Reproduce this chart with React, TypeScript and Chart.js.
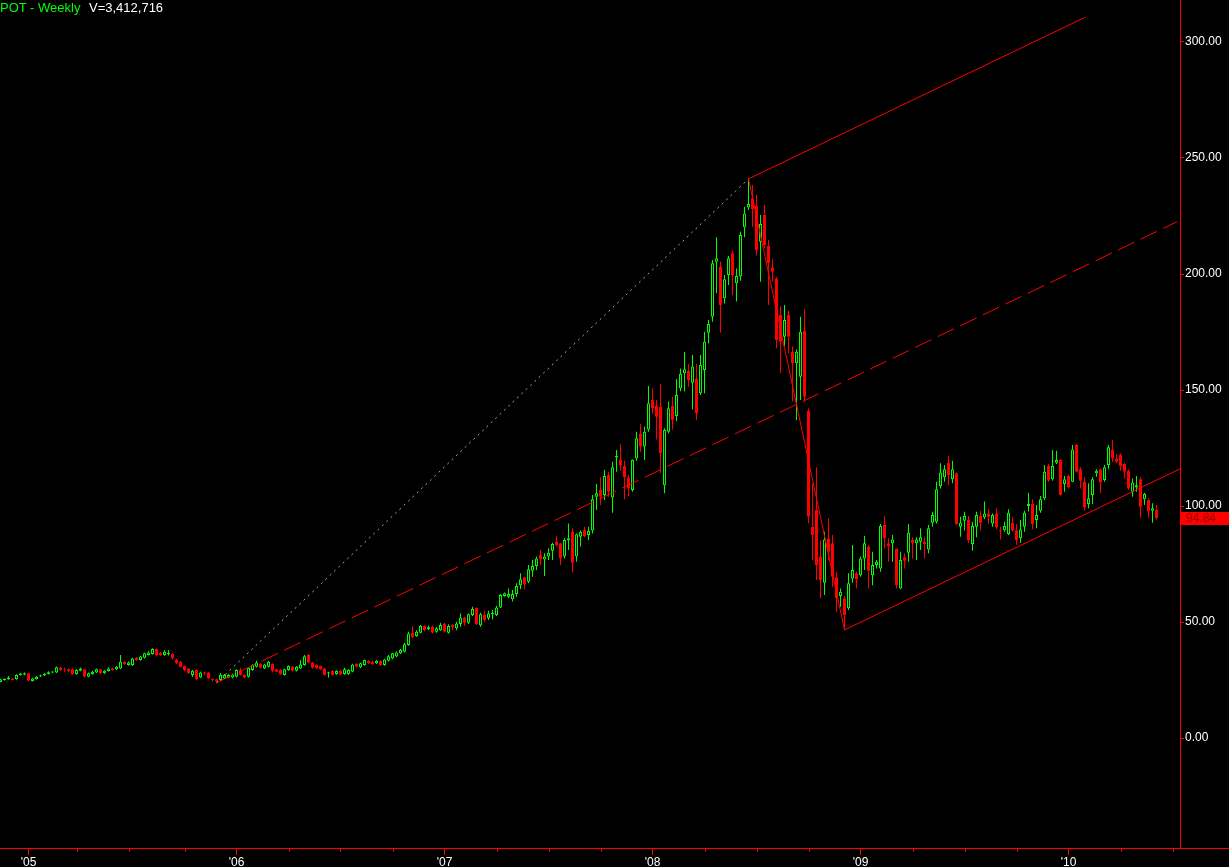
import React, { useEffect, useRef } from 'react';
import { Chart, registerables } from 'chart.js';

Chart.register(...registerables);

// Week index is counted from the first week of 2005 (week 0 = '05 tick)
const FIRST_WEEK = -7;

const opens = [
  24.2, 24.9, 25.3, 25.7, 25.3, 27.2, 27.3,
  27.9, 24.6, 25.4, 26.6, 27.0, 27.6, 28.2, 28.2, 30.4, 29.7, 29.6, 29.6, 27.6, 29.0, 29.6, 26.4, 27.6, 28.2, 29.6, 27.9,
  28.9, 30.0, 29.6, 30.0, 32.9, 31.5, 31.5, 34.6, 33.6, 34.6, 35.8, 36.2, 38.4, 36.8, 35.8, 36.2, 36.2, 33.9, 32.9, 31.0,
  30.0, 27.2, 29.3, 26.1, 28.3, 28.2, 25.4, 25.3, 25.0, 25.7, 26.1, 26.1,
  26.4, 29.3, 27.2, 26.4, 29.3, 30.7, 31.9, 30.0, 30.7, 31.9, 29.6, 29.3, 27.2, 29.3, 30.7, 29.0, 30.0, 31.5, 35.8, 32.5,
  31.5, 31.0, 30.0, 27.9, 28.9, 27.6, 28.9, 27.6, 27.6, 28.6, 31.9, 30.5, 31.5, 33.2, 32.9, 32.2, 33.2, 31.5, 33.3, 34.3,
  35.1, 36.5, 37.2, 40.1, 45.4, 44.0, 45.4, 48.3, 46.9, 48.0, 45.8, 46.5,
  49.4, 45.4, 48.7, 47.3, 49.1, 52.0, 49.7, 53.0, 56.0, 48.6, 53.0, 51.6, 53.4, 53.0, 56.3, 61.2, 60.9, 59.8, 62.1, 65.9,
  69.3, 67.4, 72.1, 74.1, 78.9, 77.0, 78.2, 80.7, 84.6, 83.9, 78.2, 85.1, 88.9, 78.2, 86.8, 89.9, 87.5, 89.4, 104.0, 106.9,
  104.7, 113.4, 103.7, 120.9, 119.8, 117.2, 112.4, 106.9, 120.5, 131.3, 125.6, 133.0,
  145.7, 143.1, 142.8, 109.0, 132.0, 143.1, 138.8, 150.7, 157.2, 158.3, 153.1, 155.0, 148.6, 158.6, 174.7, 181.6, 205.3, 203.2,
  189.5, 199.6, 208.9, 196.0, 198.9, 220.1, 228.7, 232.6, 229.3, 213.9, 225.4, 212.1, 202.9, 198.1, 182.3, 173.0, 182.3,
  166.5, 161.5, 155.7, 175.5, 141.1, 91.1, 98.3, 78.2, 66.9, 86.1, 83.9, 69.3, 61.2, 60.2, 55.9, 68.8, 71.0, 70.2, 77.4,
  82.5, 70.2, 74.6, 73.1, 91.8, 83.9, 83.9, 81.7, 64.5, 77.9, 79.9, 85.6, 83.9, 84.6, 84.6, 81.3, 92.8, 93.2, 108.6, 112.4,
  118.7, 111.5, 114.1, 91.1, 93.7, 94.0, 83.6, 91.1, 95.7, 95.1, 96.8, 92.5, 96.8, 89.6, 89.6, 87.9, 92.8, 89.6, 86.1, 91.1,
  100.0, 100.9, 94.0, 98.0, 103.3, 117.2, 111.5, 118.7,
  119.8, 109.5, 112.9, 110.5, 126.3, 115.8, 110.5, 100.9, 104.7, 114.1, 115.8, 111.2, 117.7, 124.4, 120.5, 122.0, 118.1,
  115.2, 106.2, 108.0, 111.5, 102.9, 102.6, 98.0, 98.3,
];

const highs = [
  25.5, 25.7, 26.7, 25.9, 27.5, 28.0, 28.2,
  28.1, 26.0, 26.7, 27.3, 28.0, 28.8, 28.8, 30.8, 30.7, 30.3, 30.0, 30.0, 29.6, 30.4, 29.8, 28.2, 29.0, 30.0, 29.8, 29.3,
  30.4, 30.4, 31.0, 35.8, 33.2, 33.0, 34.6, 34.9, 35.4, 36.8, 37.4, 38.7, 38.6, 37.2, 37.8, 37.8, 36.5, 34.2, 33.2, 31.3,
  30.3, 29.3, 29.6, 28.6, 28.6, 28.5, 25.6, 25.5, 28.0, 27.6, 27.5, 27.7,
  29.6, 30.3, 27.5, 30.6, 31.8, 33.3, 32.2, 32.0, 33.2, 32.2, 29.9, 29.6, 29.9, 31.3, 31.0, 31.0, 33.6, 35.8, 36.3, 32.8,
  31.8, 31.3, 30.3, 28.6, 29.2, 29.2, 29.2, 30.3, 29.6, 32.0, 32.2, 32.5, 33.9, 33.5, 33.3, 33.6, 33.5, 34.2, 35.8, 36.8,
  37.4, 38.4, 41.2, 45.8, 48.3, 46.5, 48.7, 48.6, 48.5, 48.3, 47.8, 49.7,
  49.7, 49.0, 49.1, 50.1, 53.7, 52.3, 53.7, 56.6, 56.3, 54.0, 54.9, 54.9, 55.2, 57.0, 62.1, 62.7, 64.5, 63.8, 66.7, 71.0,
  69.5, 74.6, 76.7, 78.2, 81.0, 79.6, 81.8, 84.2, 87.1, 84.2, 86.1, 92.5, 90.4, 88.2, 89.4, 91.1, 91.1, 104.7, 109.5, 112.4,
  115.5, 114.8, 119.1, 124.1, 126.7, 119.5, 113.4, 120.1, 132.0, 135.3, 134.2, 151.7,
  150.7, 145.7, 152.6, 133.5, 145.0, 147.1, 154.6, 159.3, 166.4, 161.2, 165.1, 161.2, 165.1, 175.1, 180.2, 206.0, 215.8, 205.3,
  199.6, 207.8, 210.1, 202.4, 218.2, 229.0, 240.8, 238.4, 234.0, 225.4, 229.7, 214.7, 206.4, 198.8, 186.1, 186.6, 184.2,
  168.7, 167.5, 181.6, 184.8, 142.0, 109.8, 116.7, 85.0, 88.9, 94.7, 87.5, 71.7, 64.5, 61.2, 71.0, 83.2, 71.7, 78.2, 87.1,
  83.2, 80.3, 76.7, 92.2, 95.7, 86.1, 87.5, 81.7, 80.3, 79.6, 92.2, 86.5, 86.5, 90.4, 86.8, 91.8, 97.5, 110.5, 118.4, 117.7,
  121.5, 119.5, 114.4, 95.4, 97.5, 95.7, 93.2, 97.5, 98.0, 101.9, 98.6, 96.8, 99.0, 91.1, 93.2, 98.6, 95.4, 92.2, 94.0, 98.0,
  105.7, 102.9, 100.4, 104.3, 117.7, 118.1, 124.1, 123.8,
  120.1, 112.9, 113.4, 126.3, 126.7, 116.7, 112.4, 109.8, 112.4, 115.8, 116.2, 117.7, 126.3, 128.4, 122.4, 122.7, 118.7,
  115.8, 111.9, 112.9, 112.4, 105.7, 103.3, 101.2, 100.4,
];

const lows = [
  24.0, 24.8, 25.1, 24.8, 25.1, 27.0, 27.1,
  24.5, 24.4, 25.2, 26.3, 26.8, 27.4, 28.0, 28.0, 29.0, 28.6, 28.4, 27.4, 27.3, 28.8, 26.2, 26.2, 27.3, 28.0, 27.6, 27.6,
  28.7, 29.0, 29.3, 29.7, 31.5, 31.2, 31.2, 33.3, 33.3, 34.3, 35.6, 35.9, 35.1, 35.5, 35.5, 35.6, 34.0, 31.9, 30.4, 28.8,
  27.6, 26.3, 25.0, 25.9, 27.2, 25.3, 24.4, 23.8, 24.6, 25.4, 25.8, 25.8,
  26.1, 26.9, 25.8, 26.1, 29.0, 30.4, 30.0, 29.7, 30.4, 28.3, 28.3, 27.3, 26.9, 29.0, 28.7, 28.7, 29.7, 31.2, 32.2, 30.0,
  29.7, 29.3, 26.9, 26.1, 26.9, 27.3, 27.1, 27.3, 27.3, 28.3, 30.4, 30.2, 31.2, 31.9, 31.5, 31.9, 31.2, 31.2, 33.0, 34.0,
  34.8, 36.2, 36.9, 39.8, 43.0, 43.7, 45.1, 46.0, 46.5, 45.1, 45.4, 46.2,
  45.5, 45.1, 46.5, 46.6, 48.0, 48.3, 49.1, 52.6, 48.7, 48.0, 50.1, 50.9, 51.1, 52.6, 56.0, 60.9, 60.2, 58.8, 60.9, 64.1,
  64.1, 66.7, 69.5, 72.4, 74.6, 69.8, 76.7, 76.7, 82.5, 74.6, 77.4, 81.0, 71.3, 76.0, 82.5, 86.5, 85.3, 88.2, 98.3, 100.4,
  102.6, 104.0, 97.1, 114.8, 115.2, 102.9, 104.3, 106.2, 119.5, 123.4, 119.8, 132.0,
  139.9, 128.7, 114.1, 105.5, 131.3, 133.0, 136.6, 149.5, 149.5, 151.4, 141.6, 137.1, 147.8, 148.6, 170.1, 179.4, 191.7, 174.7,
  187.3, 195.3, 190.9, 188.1, 197.1, 215.8, 227.6, 220.4, 208.0, 196.7, 211.1, 186.6, 196.7, 168.0, 157.2, 168.7, 165.8,
  145.0, 137.1, 145.7, 145.0, 92.5, 76.7, 68.1, 60.2, 61.6, 76.7, 65.2, 54.4, 56.6, 46.6, 55.2, 66.9, 64.5, 69.5, 72.4,
  64.5, 65.9, 73.1, 71.7, 81.7, 76.0, 76.0, 64.5, 64.1, 73.1, 76.0, 77.4, 76.7, 81.0, 77.4, 79.6, 91.1, 92.5, 107.6, 110.5,
  109.0, 109.8, 91.8, 86.8, 89.4, 83.9, 80.7, 86.5, 89.4, 94.3, 92.2, 91.1, 90.0, 85.6, 88.9, 87.5, 88.9, 83.2, 84.2, 88.9,
  97.6, 90.0, 90.4, 97.1, 102.6, 110.5, 110.9, 118.1,
  104.5, 106.2, 107.6, 110.2, 114.4, 107.6, 98.0, 99.0, 100.9, 112.6, 105.5, 110.5, 115.8, 119.1, 118.4, 115.2, 111.9,
  106.9, 104.0, 106.2, 95.1, 100.4, 95.1, 92.8, 94.0,
];

const closes = [
  25.2, 25.5, 26.1, 25.0, 27.2, 27.8, 27.9,
  24.7, 25.7, 26.4, 27.1, 27.7, 28.4, 28.6, 30.5, 29.3, 29.5, 28.9, 27.6, 29.3, 30.0, 26.4, 27.9, 28.6, 29.6, 27.9, 29.0,
  30.0, 29.3, 30.7, 32.9, 31.9, 32.6, 34.3, 33.6, 35.1, 36.5, 36.9, 38.4, 35.8, 35.8, 37.2, 36.6, 34.3, 32.2, 30.7, 29.3,
  27.9, 29.0, 25.3, 28.2, 27.9, 25.7, 25.0, 24.6, 27.2, 27.2, 27.2, 27.4,
  29.3, 27.2, 26.1, 30.3, 31.5, 32.5, 30.3, 31.7, 32.9, 29.0, 28.6, 27.6, 29.6, 31.0, 29.0, 30.7, 31.7, 35.3, 32.5, 30.3,
  30.0, 29.6, 27.2, 28.3, 27.2, 28.9, 27.4, 29.6, 29.3, 31.7, 30.7, 32.2, 33.6, 32.2, 31.9, 33.3, 31.5, 33.9, 35.3, 36.5,
  36.9, 37.9, 40.4, 45.1, 43.4, 45.8, 48.3, 46.5, 47.8, 45.4, 47.3, 48.7,
  45.8, 48.3, 47.6, 49.4, 52.0, 49.7, 53.4, 55.6, 49.1, 53.4, 50.9, 53.7, 53.9, 56.3, 61.6, 62.4, 62.1, 62.1, 65.5, 68.4,
  66.4, 72.7, 74.1, 77.4, 77.0, 78.2, 79.9, 83.6, 83.2, 77.4, 85.3, 86.1, 75.6, 87.8, 88.9, 87.1, 89.2, 102.9, 105.5, 104.0,
  112.9, 106.2, 116.7, 121.6, 117.7, 112.4, 107.6, 119.8, 129.2, 125.6, 132.0, 144.3,
  142.1, 138.5, 122.7, 132.8, 142.1, 137.1, 147.8, 157.0, 158.9, 154.3, 160.1, 139.9, 160.8, 170.8, 178.4, 204.6, 206.8, 186.6,
  197.7, 206.8, 199.6, 199.1, 216.8, 226.1, 230.2, 227.9, 210.3, 221.6, 212.5, 204.6, 201.0, 171.6, 170.8, 180.2, 173.0,
  161.5, 166.5, 175.1, 147.1, 95.4, 87.5, 74.6, 68.1, 85.6, 80.3, 69.5, 60.2, 63.0, 53.0, 66.7, 72.4, 68.5, 77.4, 83.9,
  72.1, 74.6, 76.0, 91.4, 86.1, 82.5, 85.6, 65.9, 76.7, 76.4, 88.5, 83.9, 85.6, 86.5, 83.6, 90.4, 96.1, 107.2, 114.4, 115.8,
  113.4, 115.8, 92.2, 92.8, 95.7, 85.1, 91.4, 96.1, 92.8, 96.8, 95.4, 96.1, 90.8, 89.0, 91.4, 97.1, 89.4, 85.1, 89.9, 97.1,
  100.9, 92.2, 96.1, 102.9, 114.8, 110.9, 117.2, 119.8,
  104.7, 111.5, 108.0, 124.4, 114.8, 110.9, 99.4, 103.3, 111.5, 115.2, 110.1, 116.7, 125.3, 120.5, 119.1, 117.2, 114.8,
  107.6, 110.1, 109.0, 99.7, 105.2, 97.6, 99.0, 94.84,
];

const yearWeeks = [0, 52, 104, 156, 208, 260];
const yearLabels = ["'05", "'06", "'07", "'08", "'09", "'10"];
const quarterWeeks = [12, 25, 39, 65, 78, 91, 117, 130, 143, 169, 182, 195, 221, 234, 247, 273, 286];
const priceTicks = [0, 50, 100, 150, 200, 250, 300];

// Andrews pitchfork pivots (week, price)
const pivotA = [47, 23.8];
const pivotB = [180, 241.0];
const pivotC = [204, 46.6];
const TINE_WEEKS = 84.25;
const MEDIAN_END_WEEK = 287.2;

const titleSymbol = 'POT - Weekly';
const titleVolume = 'V=3,412,716';

const GREEN = '#00ff00';
const RED = '#ff0000';
const FONT = '"Liberation Sans", Arial, sans-serif';

export default function App() {
  const ref = useRef<HTMLCanvasElement | null>(null);

  useEffect(() => {
    document.body.style.margin = '0';
    document.body.style.background = '#000';
    const canvas = ref.current;
    if (!canvas) return;

    const weeks = opens.map((_, k) => FIRST_WEEK + k);
    const isUp = closes.map((c, k) => c >= opens[k]);
    const bodyData = weeks.map((w, k) => ({ x: w, y: [opens[k], closes[k]] }));
    const wickData = weeks.map((w, k) => ({ x: w, y: [lows[k], highs[k]] }));
    const candleColor = isUp.map((u) => (u ? GREEN : RED));
    const bodyFill = isUp.map((u) => (u ? '#000000' : RED));

    const midX = (pivotB[0] + pivotC[0]) / 2;
    const midY = (pivotB[1] + pivotC[1]) / 2;
    const slope = (midY - pivotA[1]) / (midX - pivotA[0]);
    const medianEnd = { x: MEDIAN_END_WEEK, y: pivotA[1] + slope * (MEDIAN_END_WEEK - pivotA[0]) };
    const upperEnd = { x: pivotB[0] + TINE_WEEKS, y: pivotB[1] + slope * TINE_WEEKS };
    const lowerEnd = { x: pivotC[0] + TINE_WEEKS, y: pivotC[1] + slope * TINE_WEEKS };
    const pt = (p: number[]) => ({ x: p[0], y: p[1] });

    const lineBase = { type: 'line', pointRadius: 0, borderWidth: 1, fill: false, tension: 0 };

    const overlay = {
      id: 'overlay',
      afterDraw(chart: any) {
        const { ctx, chartArea } = chart;
        const xs = chart.scales.x;
        const ys = chart.scales.y;
        ctx.save();
        ctx.strokeStyle = RED;
        ctx.lineWidth = 1;
        // extend the time axis line under the price labels
        ctx.beginPath();
        ctx.moveTo(chartArea.right, chartArea.bottom + 0.5);
        ctx.lineTo(chart.width, chartArea.bottom + 0.5);
        ctx.stroke();
        quarterWeeks.forEach((w) => {
          const px = Math.round(xs.getPixelForValue(w)) + 0.5;
          ctx.beginPath();
          ctx.moveTo(px, chartArea.bottom);
          ctx.lineTo(px, chartArea.bottom + 4);
          ctx.stroke();
        });
        const last = closes[closes.length - 1];
        const py = Math.round(ys.getPixelForValue(last));
        ctx.fillStyle = RED;
        ctx.fillRect(chartArea.right + 1, py - 6, chart.width - chartArea.right - 1, 13);
        ctx.fillStyle = '#900000';
        ctx.font = '12px ' + FONT;
        ctx.textBaseline = 'middle';
        ctx.textAlign = 'left';
        ctx.fillText(last.toFixed(2), chartArea.right + 6, py + 1);
        ctx.restore();
      },
    };

    const chart = new Chart(canvas, {
      type: 'bar',
      data: {
        datasets: [
          { ...lineBase, data: [pt(pivotA), pt(pivotB)], borderColor: '#a8a8a8', borderDash: [2, 4] } as any,
          { ...lineBase, data: [pt(pivotA), medianEnd], borderColor: RED, borderDash: [18, 7] } as any,
          { ...lineBase, data: [pt(pivotB), upperEnd], borderColor: RED } as any,
          { ...lineBase, data: [pt(pivotC), lowerEnd], borderColor: RED } as any,
          { ...lineBase, data: [pt(pivotB), pt(pivotC)], borderColor: RED } as any,
          {
            type: 'bar',
            data: bodyData as any,
            backgroundColor: bodyFill,
            borderColor: candleColor,
            borderWidth: 1,
            borderSkipped: false,
            barThickness: 3,
            minBarLength: 1,
            grouped: false,
            inflateAmount: 0,
          } as any,
          {
            type: 'bar',
            data: wickData as any,
            backgroundColor: candleColor,
            borderWidth: 0,
            barThickness: 1,
            grouped: false,
            inflateAmount: 0,
          } as any,
        ],
      },
      options: {
        responsive: false,
        animation: false,
        devicePixelRatio: 1,
        events: [],
        layout: { padding: 0 },
        plugins: { legend: { display: false }, tooltip: { enabled: false }, title: { display: false } },
        scales: {
          x: {
            type: 'linear',
            min: FIRST_WEEK - 0.125,
            max: FIRST_WEEK - 0.125 + 295,
            offset: false,
            afterBuildTicks: (s: any) => {
              s.ticks = yearWeeks.map((v) => ({ value: v }));
            },
            afterFit: (s: any) => {
              s.height = 19;
              s.paddingLeft = 0;
              s.paddingRight = 0;
            },
            ticks: {
              autoSkip: false,
              maxRotation: 0,
              color: '#ffffff',
              padding: 0,
              font: { family: FONT, size: 12 },
              callback: (v: any) => yearLabels[yearWeeks.indexOf(Number(v))] ?? '',
            },
            grid: { drawOnChartArea: false, offset: false, color: RED, tickLength: 7, tickWidth: 1 },
            border: { color: RED, width: 1 },
          },
          y: {
            type: 'linear',
            position: 'right',
            min: -47.4,
            max: 318.1,
            afterBuildTicks: (s: any) => {
              s.ticks = priceTicks.map((v) => ({ value: v }));
            },
            afterFit: (s: any) => {
              s.width = 49;
              s.paddingTop = 0;
              s.paddingBottom = 0;
            },
            ticks: {
              color: '#ffffff',
              padding: 1,
              font: { family: FONT, size: 12 },
              callback: (v: any) => Number(v).toFixed(2),
            },
            grid: { drawOnChartArea: false, offset: false, color: RED, tickLength: 4, tickWidth: 1 },
            border: { color: RED, width: 1 },
          },
        },
      },
      plugins: [overlay],
    } as any);

    return () => chart.destroy();
  }, []);

  return (
    <div style={{ position: 'fixed', left: 0, top: 0, width: 1229, height: 867, background: '#000', overflow: 'hidden' }}>
      <canvas ref={ref} width={1229} height={867} style={{ display: 'block', width: 1229, height: 867 }} />
      <div style={{ position: 'absolute', left: 0, top: 0, font: '13px ' + FONT, lineHeight: '15px', whiteSpace: 'nowrap' }}>
        <span style={{ position: 'absolute', left: 0, top: 0, color: GREEN }}>{titleSymbol}</span>
        <span style={{ position: 'absolute', left: 89, top: 0, color: '#ffffff' }}>{titleVolume}</span>
      </div>
    </div>
  );
}
